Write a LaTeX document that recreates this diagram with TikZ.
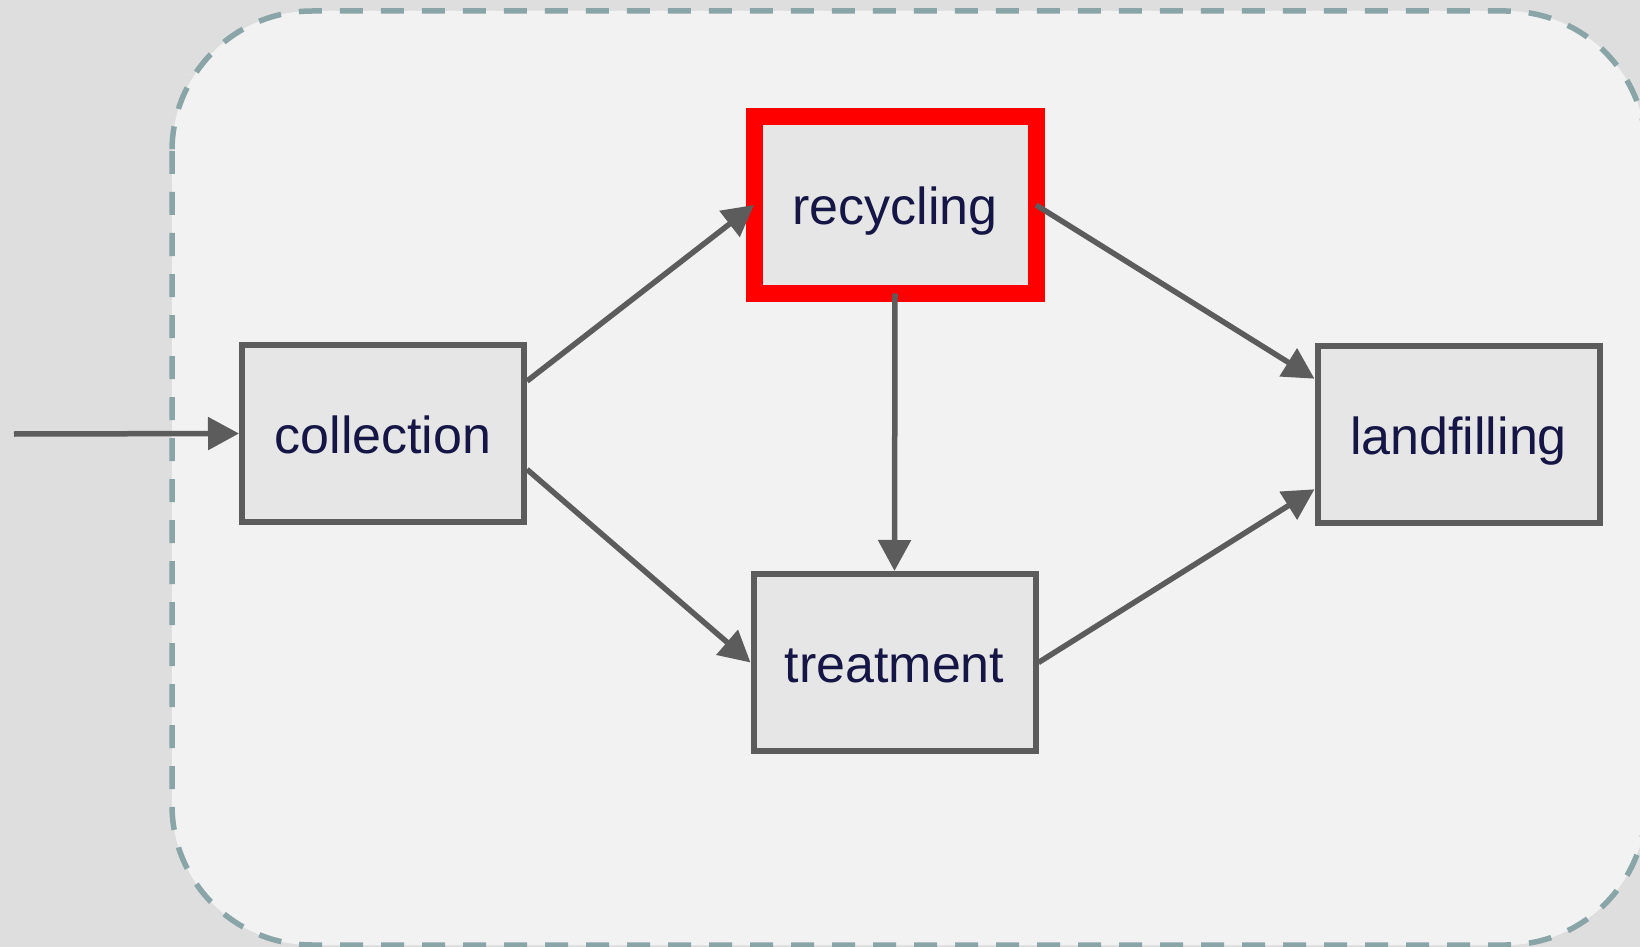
\documentclass[tikz,border=0pt]{standalone}
\usepackage{fontspec}
\setmainfont{Liberation Sans}
\usetikzlibrary{arrows.meta}
\definecolor{bgc}{HTML}{DEDEDE}
\definecolor{contfill}{HTML}{F2F2F2}
\definecolor{contline}{HTML}{8AA5A8}
\definecolor{boxfill}{HTML}{E6E6E6}
\definecolor{boxline}{HTML}{5C5C5C}
\definecolor{txt}{HTML}{161646}
\tikzset{
  procbox/.style={draw=boxline, fill=boxfill, line width=3pt, rectangle,
    minimum width=141pt, minimum height=88.5pt, inner sep=0pt,
    text height=20pt, text depth=0pt,
    text=txt, font=\fontsize{26pt}{30pt}\selectfont},
  hotbox/.style={procbox, draw=red, line width=8.5pt, outer sep=0pt},
  edge/.style={draw=boxline, line width=2.75pt,
    -{Triangle[length=15.5pt,width=16pt]}},
  container/.style={draw=contline, fill=contfill, line width=2.75pt,
    dash pattern=on 11.5pt off 9pt, rounded corners=70pt}
}
\begin{document}
\begin{tikzpicture}[x=0.5pt,y=-0.5pt]
\useasboundingbox (0,0) rectangle (1640,947);
\fill[bgc] (0,0) rectangle (1640,947);
\begin{scope}
\clip (0,0) rectangle (1640,947);
\path[container] (172,11) rectangle (1646,945);
\end{scope}
\coordinate (start) at (14,434);
\node[procbox] (col) at (383,433.5) {collection};
\node[hotbox] (rec) at (895,205) {recycling};
\node[procbox] (treat) at (894.5,662.5) {treatment};
\node[procbox] (land) at (1458.5,434) {landfilling};
\draw[edge] (start) -- (col.west);
\draw[edge] (col.20) -- (rec.west);
\draw[edge] (col.-14.4) -- (treat.west);
\draw[edge] (rec.south) -- (treat.north);
\draw[edge] (rec.east) -- (land.159);
\draw[edge] (treat.east) -- (land.201);
\end{tikzpicture}
\end{document}
